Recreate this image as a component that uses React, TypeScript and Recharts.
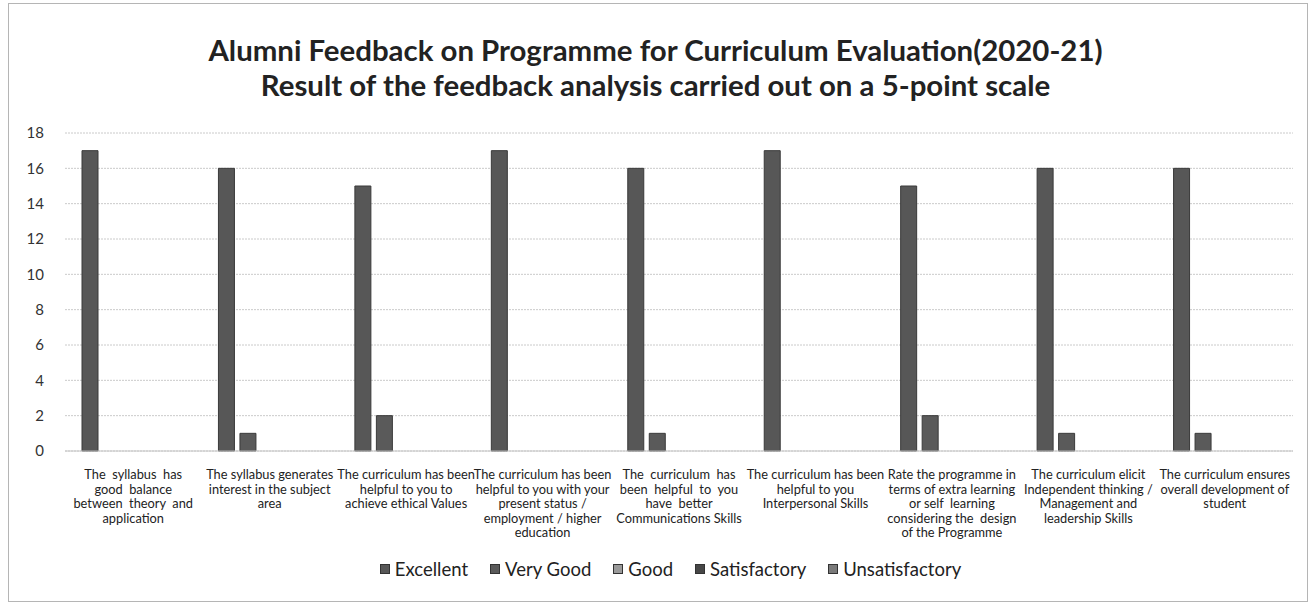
import React from "react";
import { BarChart, Bar, XAxis, YAxis, CartesianGrid, Legend } from "recharts";

const categories: string[] = [
  "The  syllabus  has\ngood  balance\nbetween  theory  and\napplication",
  "The syllabus generates\ninterest in the subject\narea",
  "The curriculum has been\nhelpful to you to\nachieve ethical Values",
  "The curriculum has been\nhelpful to you with your\npresent status /\nemployment / higher\neducation",
  "The  curriculum  has\nbeen  helpful  to  you\nhave  better\nCommunications Skills",
  "The curriculum has been\nhelpful to you\nInterpersonal Skills",
  "Rate the programme in\nterms of extra learning\nor self  learning\nconsidering the  design\nof the Programme",
  "The curriculum elicit\nIndependent thinking /\nManagement and\nleadership Skills",
  "The curriculum ensures\noverall development of\nstudent",
];

const excellent: number[] = [17, 16, 15, 17, 16, 17, 15, 16, 16];
const veryGood: number[] = [0, 1, 2, 0, 1, 0, 2, 1, 1];
const good: number[] = [0, 0, 0, 0, 0, 0, 0, 0, 0];
const satisfactory: number[] = [0, 0, 0, 0, 0, 0, 0, 0, 0];
const unsatisfactory: number[] = [0, 0, 0, 0, 0, 0, 0, 0, 0];

const yTicks: number[] = [0, 2, 4, 6, 8, 10, 12, 14, 16, 18];

const seriesNames = ["Excellent", "Very Good", "Good", "Satisfactory", "Unsatisfactory"];
const seriesKeys = ["excellent", "veryGood", "good", "satisfactory", "unsatisfactory"];
const seriesColors = ["#575757", "#5a5a5a", "#9a9a9a", "#474747", "#7a7a7a"];

const titleLine1 = "Alumni Feedback on Programme for Curriculum Evaluation(2020-21)";
const titleLine2 = "Result of the feedback analysis carried out on a 5-point scale";

const data = categories.map((c, i) => ({
  name: c,
  excellent: excellent[i],
  veryGood: veryGood[i],
  good: good[i],
  satisfactory: satisfactory[i],
  unsatisfactory: unsatisfactory[i],
}));

const FONT = "Lato, 'Open Sans', sans-serif";

const XTick = (props: any) => {
  const { x, y, payload } = props;
  const lines = String(payload.value).split("\n");
  return (
    <g transform={`translate(${x},${y})`}>
      {lines.map((l, i) => (
        <text
          key={i}
          x={0}
          y={20 + i * 14.6}
          textAnchor="middle"
          fontSize={12.8}
          fontFamily={FONT}
          fill="#222"
          style={{ whiteSpace: "pre" }}
        >
          {l}
        </text>
      ))}
    </g>
  );
};

const LegendContent = () => (
  <div
    style={{
      display: "flex",
      justifyContent: "center",
      alignItems: "center",
      gap: 22,
      fontFamily: FONT,
      fontSize: 18.5,
      color: "#222",
      marginLeft: 30,
    }}
  >
    {seriesNames.map((n, i) => (
      <div key={n} style={{ display: "flex", alignItems: "center" }}>
        <span
          style={{
            display: "inline-block",
            width: 8,
            height: 8,
            background: seriesColors[i],
            border: "1px solid #333",
            marginRight: 5,
          }}
        />
        <span>{n}</span>
      </div>
    ))}
  </div>
);

export default function App() {
  return (
    <div style={{ position: "absolute", left: 0, top: 0, width: 1311, height: 607, background: "#fff" }}>
      <div
        style={{
          position: "absolute",
          left: 8,
          top: 3,
          width: 1298,
          height: 597,
          border: "1px solid #b5b5b5",
        }}
      />
      <div
        style={{
          position: "absolute",
          left: 0,
          top: 32,
          width: 1311,
          textAlign: "center",
          fontFamily: FONT,
          fontWeight: 700,
          fontSize: 29.4,
          color: "#222",
          lineHeight: "35px",
        }}
      >
        <div>{titleLine1}</div>
        <div>{titleLine2}</div>
      </div>
      <div style={{ position: "absolute", left: 0, top: 0 }}>
        <BarChart
          width={1311}
          height={607}
          data={data}
          margin={{ top: 133, right: 18, bottom: 0, left: 13 }}
          barSize={16}
          barGap={5.5}
        >
          <CartesianGrid vertical={false} stroke="#cacaca" strokeDasharray="2 1" />
          <XAxis
            dataKey="name"
            interval={0}
            tickLine={false}
            axisLine={{ stroke: "#c4c4c4" }}
            tick={<XTick />}
            height={134}
          />
          <YAxis
            domain={[0, 18]}
            ticks={yTicks}
            width={52}
            axisLine={false}
            tickLine={false}
            tick={{ fontSize: 15, fill: "#333", fontFamily: FONT, dx: -13 }}
          />
          <Legend
            verticalAlign="bottom"
            content={<LegendContent />}
            wrapperStyle={{ position: "absolute", top: 558, left: 0, width: 1311 }}
          />
          {seriesKeys.map((k, i) => (
            <Bar
              key={k}
              dataKey={k}
              name={seriesNames[i]}
              fill={seriesColors[i]}
              stroke="#3a3a3a"
              strokeWidth={1}
              isAnimationActive={false}
            />
          ))}
        </BarChart>
      </div>
    </div>
  );
}
